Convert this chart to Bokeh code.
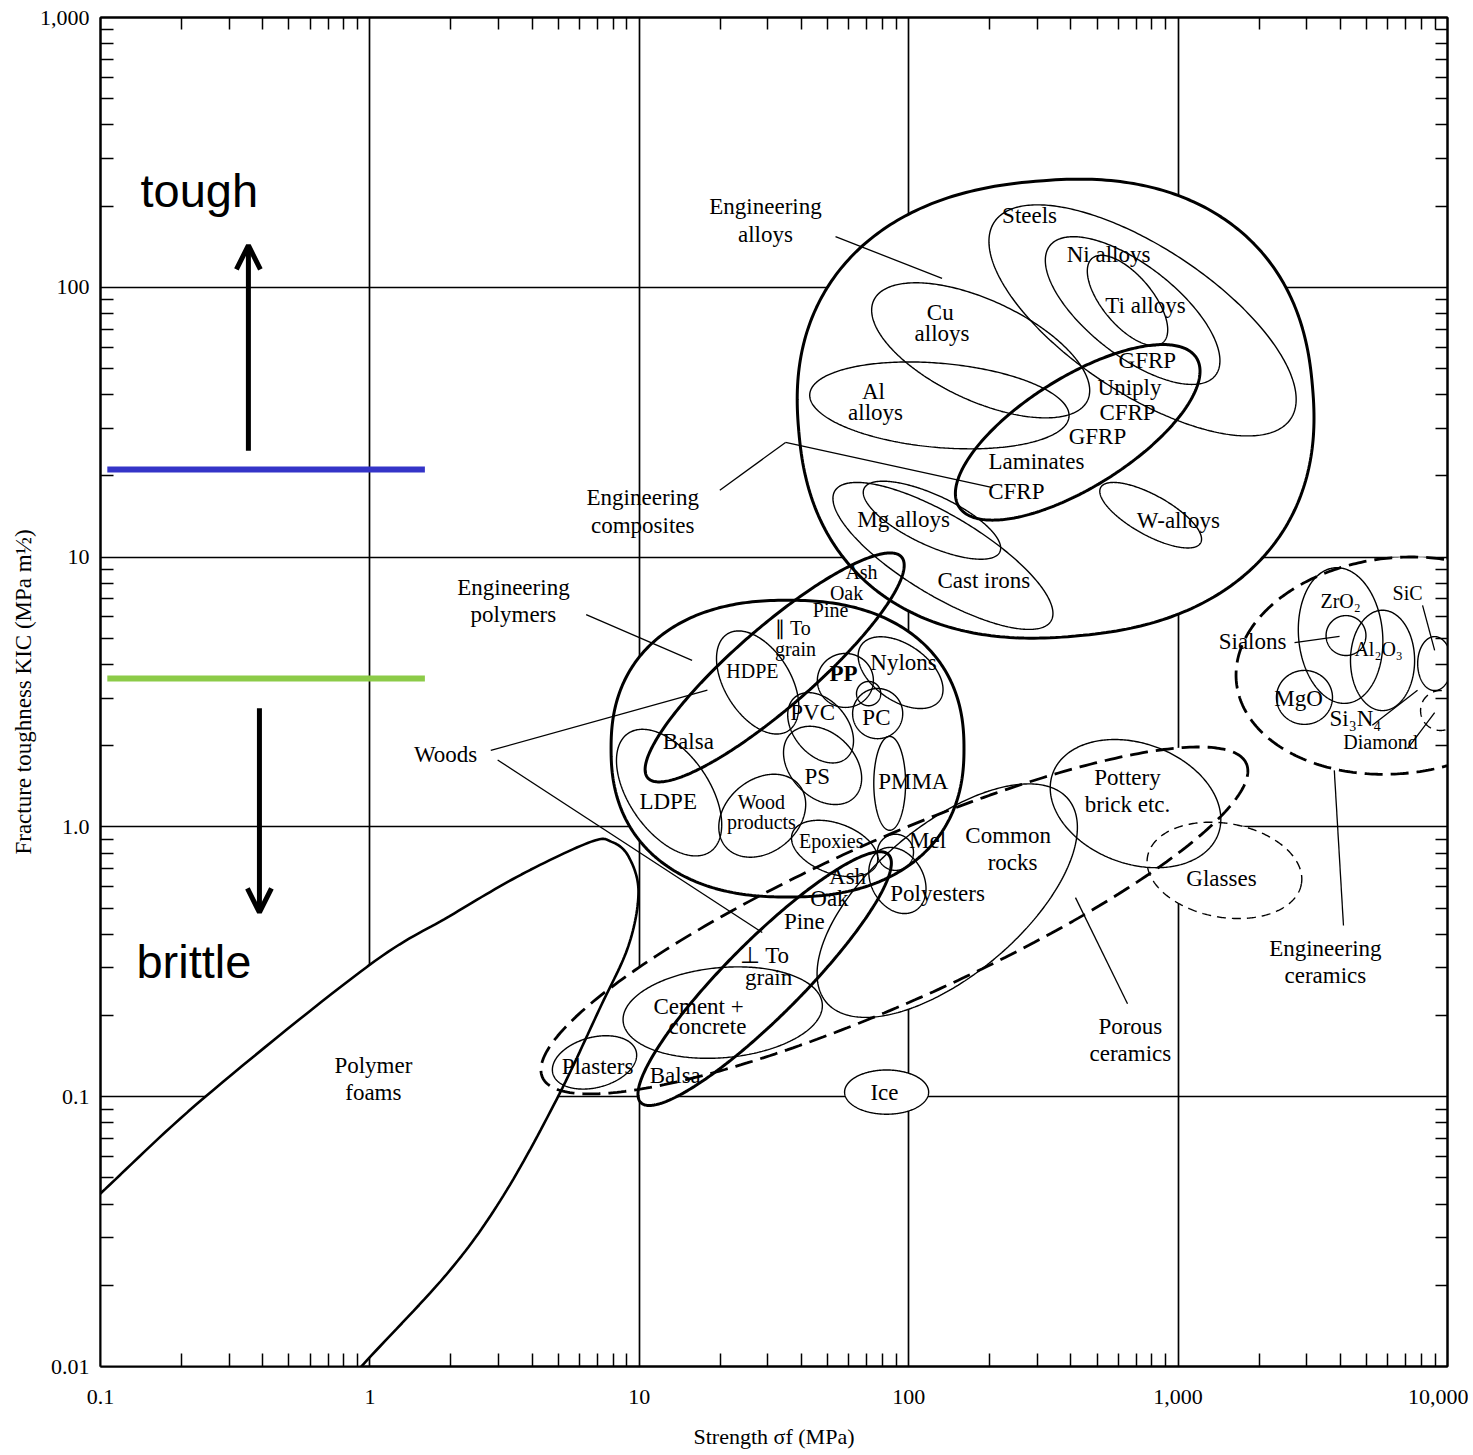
import numpy as np
from bokeh.plotting import figure
from bokeh.models import (FixedTicker, LogAxis, Label, Arrow, OpenHead, CustomJSTickFormatter)
from bokeh.core.properties import value
from bokeh.embed import file_html
from bokeh.resources import INLINE

# ---------------- data ----------------
X_TICKS = [0.1, 1, 10, 100, 1000, 10000]
X_TICK_LABELS = ["0.1", "1", "10", "100", "1,000", "10,000"]
Y_TICKS = [0.01, 0.1, 1, 10, 100, 1000]
Y_TICK_LABELS = ["0.01", "0.1", "1.0", "10", "100", "1,000"]
X_TITLE = "Strength \u03c3f (MPa)"
Y_TITLE = "Fracture toughness KIC (MPa m\u00bd)"

# material envelopes: centre strength (MPa), centre toughness (MPa m^1/2),
# semi-axes (decades), tilt (deg), squareness exponent (2 = ellipse)
env_name = ["Engineering alloys", "Steels", "Ni alloys", "Ti alloys", "Cu alloys",
            "Al alloys", "Mg alloys", "Cast irons", "W alloys", "Engineering composites",
            "Engineering polymers", "Woods parallel", "HDPE", "LDPE", "PP", "Nylons", "PC",
            "PP-PC", "PVC", "PS", "PMMA", "Wood products", "Epoxies", "Mel", "Polyesters",
            "Woods perpendicular", "Cement and concrete", "Plasters", "Ice",
            "Porous ceramics", "Common rocks", "Pottery", "Glasses",
            "Engineering ceramics", "ZrO2", "Sialons", "Al2O3", "MgO", "SiC", "Diamond"]
env_strength = [351, 738, 678, 649, 185, 130, 122, 134, 791, 424,
                35.5, 31.8, 27.5, 12.9, 58.2, 93.3, 76.7, 71, 47.1, 47.9, 85, 28.6, 53.1, 89.3, 90.8,
                29.2, 20.4, 6.82, 82.8, 88.5, 139, 695, 1486,
                6520, 4010, 4200, 5740, 2945, 8960, 9420]
env_toughness = [35.5, 75.4, 82, 89.4, 58.4, 36.5, 13.7, 10.1, 14.3, 29.0,
                 1.95, 3.9, 3.43, 1.34, 3.49, 3.73, 2.63, 3.12, 2.33, 1.69, 1.45, 1.10, 0.832, 0.805, 0.633,
                 0.274, 0.205, 0.134, 0.104, 0.45, 0.533, 1.22, 0.69,
                 3.96, 5.12, 5.12, 4.14, 3.02, 4.03, 2.7]
env_a = [0.957, 0.66, 0.39, 0.204, 0.438, 0.483, 0.278, 0.468, 0.212, 0.52,
         0.655, 0.624, 0.212, 0.267, 0.104, 0.178, 0.093, 0.045, 0.148, 0.167, 0.174, 0.178, 0.167, 0.067, 0.13,
         0.65, 0.371, 0.16, 0.156, 1.43, 0.586, 0.327, 0.29,
         0.601, 0.252, 0.074, 0.186, 0.104, 0.1, 0.074]
env_b = [0.846, 0.27, 0.167, 0.093, 0.186, 0.156, 0.093, 0.148, 0.074, 0.204,
         0.55, 0.148, 0.122, 0.148, 0.1, 0.104, 0.093, 0.045, 0.1, 0.119, 0.059, 0.134, 0.093, 0.067, 0.097,
         0.141, 0.167, 0.093, 0.082, 0.3, 0.278, 0.223, 0.174,
         0.4, 0.156, 0.074, 0.119, 0.1, 0.063, 0.074]
env_tilt = [5, -33.5, -38, -50, -25, -5, -25, -31, -29, 32,
            0, 41, -58, -55, 0, -35, 0, 0, -50, -45, 90, 40, -20, 0, -60,
            45, 5, 15, 0, 24, 40, -20, -10,
            6, 95, 0, 90, 0, 90, 0]
env_square = [2.3, 2, 2, 2, 2, 2, 2, 2, 2, 2,
              2.3, 2, 2, 2, 2, 2, 2, 2, 2, 2, 2, 2, 2, 2, 2,
              2, 2, 2, 2, 2, 2, 2, 2,
              2, 2, 2, 2, 2, 2, 2]

# polymer foams boundary (strength MPa, toughness MPa m^1/2)
foam_strength = [0.071, 0.1, 0.243, 0.98, 1.97, 3.65, 6.6, 7.9, 9.12, 9.93, 9.12, 7.11,
                 4.93, 3.13, 1.98, 0.98, 0.714]
foam_toughness = [0.032, 0.0438, 0.0993, 0.304, 0.466, 0.666, 0.88, 0.88, 0.777, 0.576, 0.363,
                  0.211, 0.0976, 0.043, 0.0227, 0.0106, 0.0075]

# leader lines
lead_x0 = [53.5, 19.9, 34.9, 6.35, 2.81, 2.98, 4110, 649, 2705, 8080, 5260, 7110]
lead_y0 = [154, 17.7, 26.6, 6.12, 1.92, 1.77, 0.431, 0.221, 4.82, 6.62, 2.38, 1.95]
lead_x1 = [133, 34.9, 205, 15.7, 17.9, 28.6, 3800, 416, 3975, 8960, 7740, 8960]
lead_y1 = [108, 26.6, 18.1, 4.14, 3.21, 0.406, 1.62, 0.547, 5.08, 4.51, 3.21, 2.65]

# labels (normal size)
lab_text = ["Engineering", "alloys", "Steels", "Ni alloys", "Ti alloys", "Cu", "alloys", "Al", "alloys",
            "GFRP", "Uniply", "CFRP", "GFRP", "Laminates", "CFRP", "Engineering", "composites",
            "Mg alloys", "W-alloys", "Cast irons", "Engineering", "polymers", "Nylons", "PVC", "PC",
            "Balsa", "Woods", "PS", "PMMA", "LDPE", "Mel", "Common", "rocks", "Pottery", "brick etc.",
            "Glasses", "Ash", "Oak", "Polyesters", "Pine", "\u22a5 To", "grain", "Cement +", "concrete",
            "Plasters", "Balsa", "Ice", "Polymer", "foams", "Porous", "ceramics", "Engineering",
            "ceramics", "Sialons", "MgO", "Si\u2083N\u2084"]
lab_x = [29.4, 29.4, 281, 552, 757, 131, 133, 74, 75.3,
         769, 660, 649, 502, 298, 251, 10.3, 10.3,
         95.7, 1002, 190, 3.41, 3.41, 95.7, 44.0, 75.9,
         15.2, 1.91, 45.8, 104, 12.8, 117.5, 234, 243, 649, 649,
         1449, 59.3, 50.8, 128, 41.0, 29.2, 30.2, 16.6, 17.9,
         7.0, 13.6, 81.3, 1.03, 1.03, 665, 665, 3520,
         3520, 1890, 2800, 4550]
lab_y = [199, 157, 184, 132, 85.7, 80.7, 67.4, 41.1, 34.4,
         53.6, 42.6, 34.4, 28.0, 22.6, 17.5, 16.6, 13.1,
         13.8, 13.7, 8.18, 7.71, 6.12, 4.06, 2.66, 2.54,
         2.07, 1.85, 1.54, 1.47, 1.24, 0.89, 0.929, 0.738, 1.52, 1.21,
         0.644, 0.654, 0.543, 0.566, 0.446, 0.333, 0.276, 0.216, 0.182,
         0.129, 0.12, 0.104, 0.131, 0.104, 0.182, 0.145, 0.354,
         0.281, 4.87, 2.99, 2.52]

# labels (small size)
sm_text = ["Ash", "Oak", "Pine", "\u2225 To", "grain", "HDPE", "Wood", "products", "Epoxies",
           "Diamond", "ZrO\u2082", "Al\u2082O\u2083", "SiC"]
sm_x = [66.8, 58.8, 51.3, 37.3, 38.0, 26.3, 28.4, 28.4, 51.6, 5640, 4010, 5550, 7110]
sm_y = [8.77, 7.39, 6.34, 5.48, 4.58, 3.77, 1.24, 1.04, 0.89, 2.06, 6.9, 4.58, 7.39]

bold_text = ["PP"]
bold_x = [57.3]
bold_y = [3.71]

# tough / brittle thresholds and arrows
tough_level = 21.1
brittle_level = 3.55
level_x0, level_x1 = 0.106, 1.6
arrow_up = (0.354, 24.8, 0.354, 143)
arrow_down = (0.389, 2.75, 0.389, 0.482)
tough_pos = (0.1408, 228)
brittle_pos = (0.136, 0.318)

THICK = {"Engineering alloys", "Engineering composites", "Engineering polymers",
         "Woods parallel", "Woods perpendicular"}
DASH_THICK = {"Porous ceramics", "Engineering ceramics"}
DASH_THIN = {"Glasses", "Diamond"}

SERIF = "Liberation Serif"


def outline(s, k, a, b, tilt, n=2.0, m=361):
    t = np.linspace(0, 2 * np.pi, m)
    c, si = np.cos(t), np.sin(t)
    u = a * np.sign(c) * np.abs(c) ** (2.0 / n)
    v = b * np.sign(si) * np.abs(si) ** (2.0 / n)
    th = np.radians(tilt)
    lx = np.log10(s) + u * np.cos(th) - v * np.sin(th)
    ly = np.log10(k) + u * np.sin(th) + v * np.cos(th)
    return list(10 ** lx), list(10 ** ly)


def smooth(xs, ys, n=16):
    P = np.column_stack([np.log10(xs), np.log10(ys)])
    P = np.vstack([2 * P[0] - P[1], P, 2 * P[-1] - P[-2]])
    pts = []
    for i in range(1, len(P) - 2):
        p0, p1, p2, p3 = P[i - 1], P[i], P[i + 1], P[i + 2]
        for t in np.linspace(0, 1, n, endpoint=False):
            pts.append(0.5 * (2 * p1 + (-p0 + p2) * t + (2 * p0 - 5 * p1 + 4 * p2 - p3) * t ** 2
                              + (-p0 + 3 * p1 - 3 * p2 + p3) * t ** 3))
    pts.append(P[-2])
    pts = np.array(pts)
    return list(10 ** pts[:, 0]), list(10 ** pts[:, 1])


# ---------------- figure ----------------
p = figure(width=1468, height=1452, x_axis_type="log", y_axis_type="log",
           x_range=(0.1, 10000), y_range=(0.01, 1000), output_backend="svg",
           toolbar_location=None, min_border_left=100, min_border_right=21,
           min_border_top=17, min_border_bottom=86)
p.background_fill_color = "white"
p.border_fill_color = "white"
p.outline_line_color = "black"
p.outline_line_width = 2

minor_x = [m * 10.0 ** k for k in range(-1, 4) for m in range(2, 10)]
minor_y = [m * 10.0 ** k for k in range(-2, 3) for m in range(2, 10)]
xt = FixedTicker(ticks=X_TICKS, minor_ticks=minor_x)
yt = FixedTicker(ticks=Y_TICKS, minor_ticks=minor_y)

fmt_code = """
for (let i = 0; i < tv.length; i++) {
  if (Math.abs(Math.log10(tick) - Math.log10(tv[i])) < 1e-6) return tl[i];
}
return "";
"""
p.xaxis.ticker = xt
p.yaxis.ticker = yt
p.xaxis.formatter = CustomJSTickFormatter(args=dict(tv=X_TICKS, tl=X_TICK_LABELS), code=fmt_code)
p.yaxis.formatter = CustomJSTickFormatter(args=dict(tv=Y_TICKS, tl=Y_TICK_LABELS), code=fmt_code)
for ax in (p.xaxis[0], p.yaxis[0]):
    ax.major_tick_in = 0
    ax.major_tick_out = 0
    ax.minor_tick_in = 13
    ax.minor_tick_out = 0
    ax.minor_tick_line_width = 1.5
    ax.axis_line_width = 2
    ax.major_label_text_font = SERIF
    ax.major_label_text_font_size = "22px"
    ax.major_label_text_color = "black"
    ax.axis_label_text_font = SERIF
    ax.axis_label_text_font_style = "normal"
    ax.axis_label_text_color = "black"
p.xaxis.axis_label_text_font_size = "22px"
p.yaxis.axis_label_text_font_size = "23px"
p.xaxis.major_label_standoff = 23
p.yaxis.major_label_standoff = 11
p.xaxis.axis_label = X_TITLE
p.yaxis.axis_label = Y_TITLE
p.xaxis.axis_label_standoff = 17
p.yaxis.axis_label_standoff = 1

blank = CustomJSTickFormatter(code="return '';")
top = LogAxis(ticker=xt, formatter=blank, major_label_text_font_size="0px", major_label_standoff=0,
              major_tick_in=0, major_tick_out=0, minor_tick_in=12, minor_tick_out=0,
              minor_tick_line_width=1.5, axis_line_width=2)
right = LogAxis(ticker=yt, formatter=blank, major_label_text_font_size="0px", major_label_standoff=0,
                major_tick_in=0, major_tick_out=0, minor_tick_in=12, minor_tick_out=0,
                minor_tick_line_width=1.5, axis_line_width=2)
p.add_layout(top, "above")
p.add_layout(right, "right")

p.xgrid.ticker = xt
p.ygrid.ticker = yt
for g in (p.xgrid[0], p.ygrid[0]):
    g.grid_line_color = "black"
    g.grid_line_alpha = 1.0
    g.grid_line_width = 1.7

# ---------------- envelopes ----------------
shapes = [outline(s, k, a, b, t, n) for s, k, a, b, t, n in
          zip(env_strength, env_toughness, env_a, env_b, env_tilt, env_square)]

fx, fy = smooth(foam_strength, foam_toughness)

# white fills first (they hide the grid like the printed chart)
fill_xs = [sx for sx, sy in shapes] + [fx + [0.01]]
fill_ys = [sy for sx, sy in shapes] + [fy + [0.001]]
p.patches(fill_xs, fill_ys, fill_color="white", line_color=None)

groups = {"thick": ([], []), "thin": ([], []), "dthick": ([], []), "dthin": ([], [])}
for name, (sx, sy) in zip(env_name, shapes):
    if name in THICK:
        key = "thick"
    elif name in DASH_THICK:
        key = "dthick"
    elif name in DASH_THIN:
        key = "dthin"
    else:
        key = "thin"
    groups[key][0].append(sx)
    groups[key][1].append(sy)

p.multi_line(groups["thin"][0], groups["thin"][1], line_color="black", line_width=1.4)
p.multi_line(groups["dthin"][0], groups["dthin"][1], line_color="black", line_width=1.4,
             line_dash="9 6")
p.multi_line(groups["dthick"][0], groups["dthick"][1], line_color="black", line_width=2.8,
             line_dash="18 8")
p.multi_line(groups["thick"][0], groups["thick"][1], line_color="black", line_width=3.0)
p.line(fx, fy, line_color="black", line_width=2.6)

# leader lines
p.segment(x0=lead_x0, y0=lead_y0, x1=lead_x1, y1=lead_y1, line_color="black", line_width=1.3)

# labels
p.text(x=lab_x, y=lab_y, text=lab_text, text_font=value(SERIF), text_font_size="23px",
       text_align="center", text_baseline="middle", text_color="black")
p.text(x=sm_x, y=sm_y, text=sm_text, text_font=value(SERIF), text_font_size="20px",
       text_align="center", text_baseline="middle", text_color="black")
p.text(x=bold_x, y=bold_y, text=bold_text, text_font=value(SERIF), text_font_size="23px",
       text_font_style="bold", text_align="center", text_baseline="middle", text_color="black")

# tough / brittle overlay
p.segment(x0=[level_x0], y0=[tough_level], x1=[level_x1], y1=[tough_level],
          line_color="#3434C8", line_width=6)
p.segment(x0=[level_x0], y0=[brittle_level], x1=[level_x1], y1=[brittle_level],
          line_color="#8CCB48", line_width=6)
for (x0, y0, x1, y1) in (arrow_up, arrow_down):
    p.add_layout(Arrow(end=OpenHead(size=24, line_width=5, line_color="black"),
                       x_start=x0, y_start=y0, x_end=x1, y_end=y1,
                       line_width=5, line_color="black"))
p.add_layout(Label(x=tough_pos[0], y=tough_pos[1], text="tough", text_font="Liberation Sans",
                   text_font_size="47px", text_baseline="alphabetic", text_align="left",
                   text_color="black"))
p.add_layout(Label(x=brittle_pos[0], y=brittle_pos[1], text="brittle", text_font="Liberation Sans",
                   text_font_size="47px", text_baseline="alphabetic", text_align="left",
                   text_color="black"))

open("out.html", "w").write(file_html(p, INLINE))
